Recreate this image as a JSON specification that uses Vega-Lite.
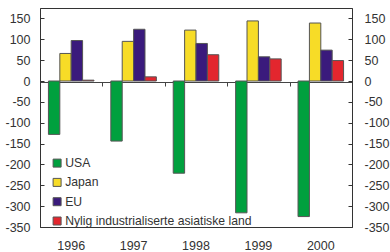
{
  "$schema": "https://vega.github.io/schema/vega-lite/v6.json",
  "width": 312,
  "height": 219,
  "autosize": {"type": "none"},
  "padding": {"left": 40, "top": 8, "right": 38, "bottom": 25},
  "background": "white",
  "config": {
    "view": {"stroke": "#333", "strokeWidth": 1},
    "font": "Liberation Sans",
    "axis": {"labelFont": "Liberation Sans", "labelFontSize": 12.5, "labelColor": "#333", "grid": false, "title": null},
    "legend": {"labelFont": "Liberation Sans", "labelFontSize": 12.2, "labelColor": "#333"}
  },
  "data": {
    "values": [
      {"year": "1996", "series": "USA", "value": -128},
      {"year": "1996", "series": "Japan", "value": 66},
      {"year": "1996", "series": "EU", "value": 97},
      {"year": "1996", "series": "Nylig industrialiserte asiatiske land", "value": 2},
      {"year": "1997", "series": "USA", "value": -144},
      {"year": "1997", "series": "Japan", "value": 95},
      {"year": "1997", "series": "EU", "value": 124},
      {"year": "1997", "series": "Nylig industrialiserte asiatiske land", "value": 10},
      {"year": "1998", "series": "USA", "value": -221},
      {"year": "1998", "series": "Japan", "value": 122},
      {"year": "1998", "series": "EU", "value": 90},
      {"year": "1998", "series": "Nylig industrialiserte asiatiske land", "value": 63},
      {"year": "1999", "series": "USA", "value": -316},
      {"year": "1999", "series": "Japan", "value": 144},
      {"year": "1999", "series": "EU", "value": 58},
      {"year": "1999", "series": "Nylig industrialiserte asiatiske land", "value": 53},
      {"year": "2000", "series": "USA", "value": -325},
      {"year": "2000", "series": "Japan", "value": 139},
      {"year": "2000", "series": "EU", "value": 74},
      {"year": "2000", "series": "Nylig industrialiserte asiatiske land", "value": 49}
    ]
  },
  "layer": [
    {
      "mark": {"type": "bar", "stroke": "#555", "strokeWidth": 1},
      "encoding": {
        "x": {
          "field": "year", "type": "nominal",
          "scale": {"paddingInner": 0, "paddingOuter": 0},
          "axis": {"orient": "bottom", "domain": false, "ticks": false, "labelAngle": 0, "labelPadding": 12}
        },
        "xOffset": {
          "field": "series", "type": "nominal",
          "sort": ["USA", "Japan", "EU", "Nylig industrialiserte asiatiske land"],
          "scale": {"paddingInner": 0, "paddingOuter": 0.74}
        },
        "y": {
          "field": "value", "type": "quantitative",
          "scale": {"domain": [-350, 175], "nice": false, "zero": false},
          "axis": {"orient": "left", "values": [-350, -300, -250, -200, -150, -100, -50, 0, 50, 100, 150], "labelExpr": "'' + datum.value", "domainColor": "#333", "tickColor": "#333", "tickSize": -4, "labelPadding": 14}
        },
        "color": {
          "field": "series", "type": "nominal",
          "sort": ["USA", "Japan", "EU", "Nylig industrialiserte asiatiske land"],
          "scale": {"domain": ["USA", "Japan", "EU", "Nylig industrialiserte asiatiske land"], "range": ["#00a03e", "#f7dc27", "#3a1a7c", "#e3262e"]},
          "legend": {"title": null, "orient": "none", "legendX": 11, "legendY": 149, "symbolType": "square", "symbolSize": 64, "symbolStrokeColor": "#555", "symbolStrokeWidth": 1, "symbolOpacity": 1, "rowPadding": 6.3, "labelOffset": 2, "labelLimit": 0, "padding": 0}
        }
      }
    },
    {
      "mark": {"type": "point", "opacity": 0},
      "encoding": {
        "x": {
          "field": "year", "type": "nominal",
          "axis": {"orient": "bottom", "offset": -145, "labels": false, "domainColor": "#444", "tickColor": "#444", "tickSize": 4, "tickBand": "extent"}
        },
        "y": {
          "field": "value", "type": "quantitative",
          "axis": {"orient": "right", "values": [-350, -300, -250, -200, -150, -100, -50, 0, 50, 100, 150], "labelExpr": "'' + datum.value", "domainColor": "#333", "tickColor": "#333", "tickSize": -4, "labelPadding": 16}
        }
      }
    }
  ],
  "resolve": {"axis": {"x": "independent", "y": "independent"}}
}
